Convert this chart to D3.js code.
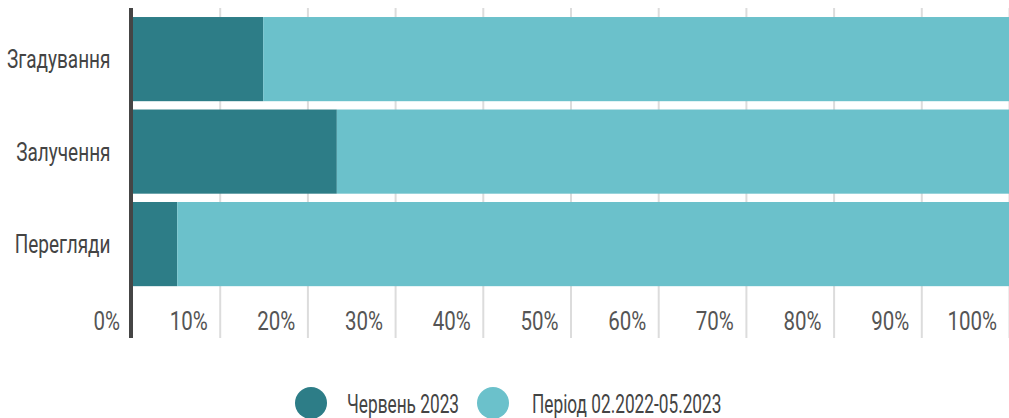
<!DOCTYPE html>
<html>
<head>
<meta charset="utf-8">
<script src="https://cdn.jsdelivr.net/npm/d3@7"></script>
<style>
  html, body { margin: 0; padding: 0; background: #fff; }
  svg { display: block; }
  text { font-family: "Roboto", "Noto Sans", sans-serif; }
</style>
</head>
<body>
<svg id="chart" width="1009" height="418"></svg>
<script>
const categories = ["Згадування", "Залучення", "Перегляди"];
const seriesNames = ["Червень 2023", "Період 02.2022-05.2023"];
const june2023 = [14.9, 23.3, 5.1];
const period = [85.1, 76.7, 94.9];
const tickValues = [0, 10, 20, 30, 40, 50, 60, 70, 80, 90, 100];
const tickLabels = ["0%", "10%", "20%", "30%", "40%", "50%", "60%", "70%", "80%", "90%", "100%"];
const colors = ["#2d7d87", "#6bc1cb"];

const svg = d3.select("#chart");
const x = d3.scaleLinear().domain([0, 100]).range([132.5, 1009.5]);
const y = d3.scaleBand().domain(categories).range([12.4, 290.8]).paddingInner(0.09).paddingOuter(0.05);

const gridTop = 8, gridBottom = 338;

// narrow a text to a target width (the reference uses a condensed face)
function fitWidth(sel, ratio) {
  sel.each(function () {
    const natural = this.getComputedTextLength();
    if (natural > 0) {
      this.setAttribute("textLength", natural * ratio);
      this.setAttribute("lengthAdjust", "spacingAndGlyphs");
    }
  });
}

// gridlines
svg.append("g").selectAll("line")
  .data(tickValues.filter(v => v > 0))
  .join("line")
  .attr("x1", d => x(d)).attr("x2", d => x(d))
  .attr("y1", gridTop).attr("y2", gridBottom)
  .attr("stroke", "#dcdcdc").attr("stroke-width", 2);

// stacked bars
const rows = categories.map((c, i) => ({ cat: c, vals: [june2023[i], period[i]] }));
const gBars = svg.append("g");
rows.forEach(r => {
  let acc = 0;
  r.vals.forEach((v, si) => {
    gBars.append("rect")
      .attr("x", x(acc))
      .attr("y", y(r.cat))
      .attr("width", x(acc + v) - x(acc))
      .attr("height", y.bandwidth())
      .attr("fill", colors[si]);
    acc += v;
  });
});

// axis line
svg.append("line")
  .attr("x1", 131).attr("x2", 131)
  .attr("y1", gridTop).attr("y2", gridBottom)
  .attr("stroke", "#454545").attr("stroke-width", 4);

// tick labels
const tickTexts = svg.append("g").selectAll("text")
  .data(tickValues)
  .join("text")
  .attr("x", d => x(d) - 12.5)
  .attr("y", 330)
  .attr("text-anchor", "end")
  .attr("fill", "#555")
  .attr("font-size", 25)
  .text((d, i) => tickLabels[i]);
fitWidth(tickTexts, 0.82);

// category labels
const catTexts = svg.append("g").selectAll("text")
  .data(categories)
  .join("text")
  .attr("x", x(0) - 22)
  .attr("y", d => y(d) + y.bandwidth() / 2)
  .attr("dy", "0.36em")
  .attr("text-anchor", "end")
  .attr("fill", "#444")
  .attr("font-size", 26)
  .text(d => d);
fitWidth(catTexts, 0.73);

// legend
const legend = svg.append("g");
const legendItems = [{ cx: 311, tx: 347 }, { cx: 493, tx: 532 }];
seriesNames.forEach((name, i) => {
  legend.append("circle")
    .attr("cx", legendItems[i].cx).attr("cy", 403).attr("r", 16)
    .attr("fill", colors[i]);
  const t = legend.append("text")
    .attr("x", legendItems[i].tx).attr("y", 413)
    .attr("fill", "#444")
    .attr("font-size", 25)
    .text(name);
  fitWidth(t, 0.69);
});
</script>
</body>
</html>
